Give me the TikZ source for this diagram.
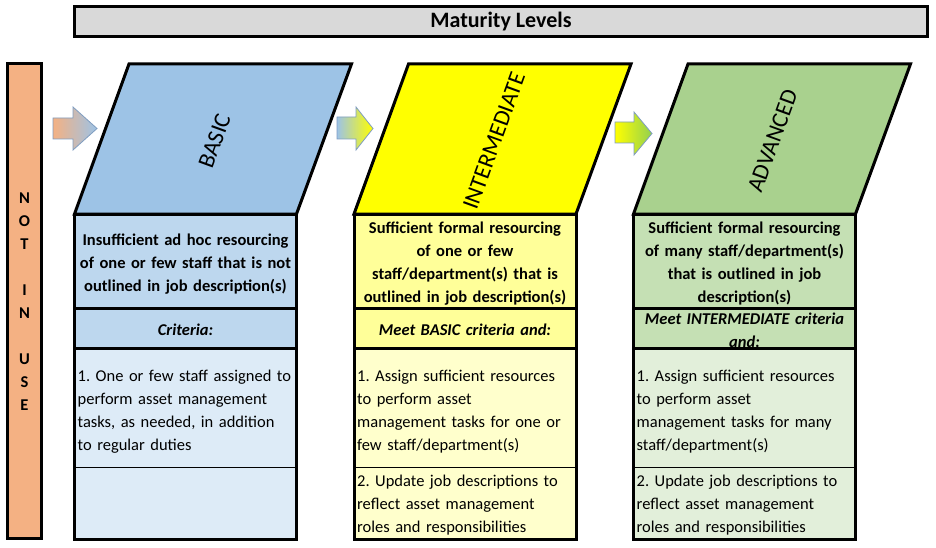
\documentclass[tikz,border=0pt]{standalone}
\usepackage{fontspec}
\setmainfont{Carlito}
\frenchspacing
\definecolor{titlegray}{HTML}{D9D9D9}
\definecolor{notuse}{HTML}{F4B183}
\definecolor{basicdark}{HTML}{9DC3E6}
\definecolor{basicmid}{HTML}{BDD7EE}
\definecolor{basiclight}{HTML}{DDEBF7}
\definecolor{intdark}{HTML}{FFFF00}
\definecolor{intmid}{HTML}{FFFF99}
\definecolor{intlight}{HTML}{FFFFCC}
\definecolor{advdark}{HTML}{A9D18E}
\definecolor{advmid}{HTML}{C5E0B4}
\definecolor{advlight}{HTML}{E2EFDA}
\definecolor{advarrow}{HTML}{92D050}
\definecolor{arrowline}{HTML}{7F9DC0}
\newcommand{\bodysize}{\fontsize{16.5}{23}\selectfont}
\tikzset{
  heavy/.style={line width=3pt, line join=miter},
  thinrule/.style={line width=1pt},
  headtext/.style={inner sep=0pt, font=\bfseries\bodysize, text width=222pt, align=center, anchor=base},
  critext/.style={headtext, font=\bfseries\itshape\bodysize},
  rowtext/.style={inner sep=0pt, font=\bodysize, text width=230pt, align=left, anchor=base west},
  leveltext/.style={inner sep=0pt, font=\fontsize{23.5}{27}\selectfont, rotate=70},
  flowarrow/.style={draw=arrowline, line width=0.8pt, line join=miter},
}
\begin{document}
\begin{tikzpicture}[x=1pt,y=-1pt]
\useasboundingbox (0,0) rectangle (936,548);

% title bar
\node[draw, heavy, fill=titlegray, minimum width=853pt, minimum height=30pt, inner sep=0pt,
      font=\bfseries\fontsize{22}{26}\selectfont] (title) at (501,21.5) {Maturity Levels};

% not in use bar
\node[draw, heavy, fill=notuse, minimum width=34pt, minimum height=475pt, inner sep=0pt] (notinuse) at (24.5,301) {};
\node[inner sep=0pt, font=\bfseries\bodysize, text width=20pt, align=center, anchor=base]
  (notinusetext) at (24.5,203) {N\\O\\T\\[23.3pt]I\\N\\[23.3pt]U\\S\\E};

% arrows between levels
\draw[flowarrow, left color=notuse, right color=basicdark]
  (53,118) -- (73,118) -- (73,107) -- (97,128.5) -- (73,150) -- (73,139) -- (53,139) -- cycle;
\draw[flowarrow, left color=basicdark, right color=intdark]
  (337,117) -- (356,117) -- (356,107) -- (373,128.5) -- (356,150) -- (356,139) -- (337,139) -- cycle;
\draw[flowarrow, left color=intdark, right color=advarrow]
  (615,122) -- (634,122) -- (634,112) -- (652,133.5) -- (634,155) -- (634,143) -- (615,143) -- cycle;

% level shapes and fills
\foreach \x/\dark/\mid/\light in {74.5/basicdark/basicmid/basiclight,
                                 354/intdark/intmid/intlight,
                                 633.5/advdark/advmid/advlight}{
  \draw[heavy, fill=\dark] (\x,214) -- (\x+54.5,64) -- (\x+277,64) -- (\x+222,214) -- cycle;
  \fill[\mid] (\x,214) rectangle (\x+222,348.5);
  \fill[\light] (\x,348.5) rectangle (\x+222,539);
}

% level names
\node[leveltext] (basic) at (214.5,141) {BASIC};
\node[leveltext] (intermediate) at (494,141) {INTERMEDIATE};
\node[leveltext] (advanced) at (772.5,141) {ADVANCED};

% BASIC column
\node[headtext] (basichead) at (185.5,245)
  {Insufficient ad hoc resourcing\\of one or few staff that is not\\outlined in job description(s)};
\node[critext] (basiccrit) at (185.5,335) {Criteria:};
\node[rowtext] (basicone) at (77.5,381)
  {1. One or few staff assigned to\\perform asset management\\tasks, as needed, in addition\\to regular duties};

% INTERMEDIATE column
\node[headtext] (inthead) at (465,233)
  {Sufficient formal resourcing\\of one or few\\staff/department(s) that is\\outlined in job description(s)};
\node[critext] (intcrit) at (465,335) {Meet BASIC criteria and:};
\node[rowtext] (intone) at (357,381)
  {1. Assign sufficient resources\\to perform asset\\management tasks for one or\\few staff/department(s)};
\node[rowtext] (inttwo) at (357,486)
  {2. Update job descriptions to\\reflect asset management\\roles and responsibilities};

% ADVANCED column
\node[headtext] (advhead) at (744.5,233)
  {Sufficient formal resourcing\\of many staff/department(s)\\that is outlined in job\\description(s)};
\begin{scope}
  \clip (633.5,308.5) rectangle (855.5,348.5);
  \node[critext] (advcrit) at (744.5,324) {Meet INTERMEDIATE criteria\\and:};
\end{scope}
\node[rowtext] (advone) at (636.5,381)
  {1. Assign sufficient resources\\to perform asset\\management tasks for many\\staff/department(s)};
\node[rowtext] (advtwo) at (636.5,486)
  {2. Update job descriptions to\\reflect asset management\\roles and responsibilities};

% box borders
\foreach \x in {74.5,354,633.5}{
  \draw[heavy] (\x,214) rectangle (\x+222,539);
  \draw[heavy] (\x,308.5) -- ++(222,0);
  \draw[heavy] (\x,348.5) -- ++(222,0);
  \draw[thinrule] (\x,467) -- ++(222,0);
}
\end{tikzpicture}
\end{document}
